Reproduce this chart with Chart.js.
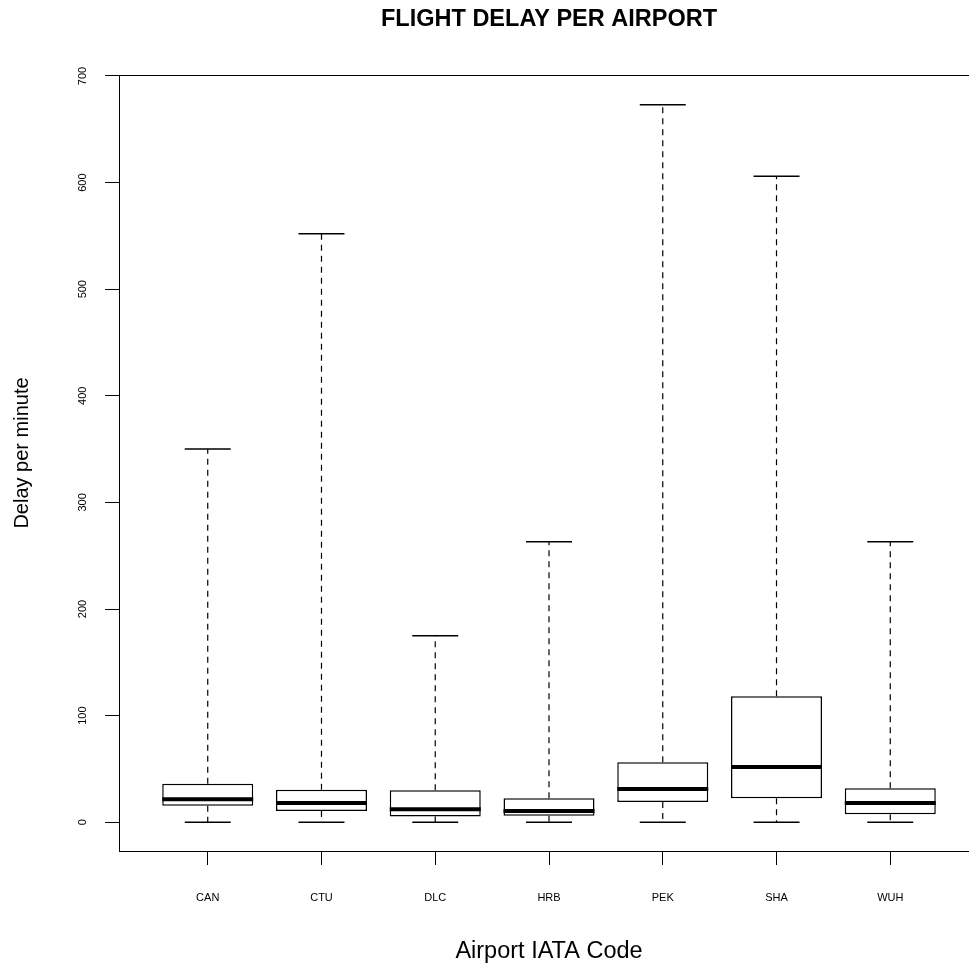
<!DOCTYPE html>
<html>
<head>
<meta charset="utf-8">
<title>Flight delay per airport</title>
<script src="https://cdn.jsdelivr.net/npm/chart.js@4.4.1/dist/chart.umd.min.js"></script>
<style>
  html, body { margin: 0; padding: 0; background: #fff; overflow: hidden; }
  #delayChart { position: absolute; left: 0; top: 0; }
</style>
</head>
<body>
<canvas id="delayChart" width="990" height="965"></canvas>
<script>
// boxplot stats (minutes)
var airports = ['CAN', 'CTU', 'DLC', 'HRB', 'PEK', 'SHA', 'WUH'];
var delayMin = [0, 0, 0, 0, 0, 0, 0];
var delayQ1 = [15.6, 10.6, 5.3, 6.2, 19, 22.5, 7.5];
var delayMedian = [21.6, 18.1, 12.2, 10.6, 31.2, 51.9, 18.1];
var delayQ3 = [36.2, 30.6, 30, 22.5, 56.3, 118.2, 31.9];
var delayMax = [350, 552, 175, 263, 673, 606, 263];
var yTicks = [0, 100, 200, 300, 400, 500, 600, 700];

var FONT = '"Liberation Sans", Arial, Helvetica, sans-serif';

// whisker segments, a null between them breaks the line
var whiskerData = [];
var capData = [];
var boxData = [];
var medianData = [];
airports.forEach(function (name, i) {
  var x = i + 1;
  whiskerData.push({ x: x, y: delayQ3[i] }, { x: x, y: delayMax[i] }, { x: x, y: null });
  whiskerData.push({ x: x, y: delayQ1[i] }, { x: x, y: delayMin[i] }, { x: x, y: null });
  capData.push({ x: x, y: delayMax[i] }, { x: x, y: delayMin[i] });
  boxData.push({ x: x, y: [delayQ1[i], delayQ3[i]] });
  medianData.push({ x: x, y: delayMedian[i] });
});

// frame, titles and tick labels drawn R style
var rDecor = {
  id: 'rDecor',
  afterDraw: function (chart) {
    var ctx = chart.ctx;
    var area = chart.chartArea;
    var xScale = chart.scales.x;
    var yScale = chart.scales.y;
    ctx.save();
    ctx.strokeStyle = '#000';
    ctx.lineWidth = 1;
    ctx.strokeRect(area.left + 0.5, area.top + 0.5, area.right - area.left, area.bottom - area.top);

    ctx.fillStyle = '#000';
    ctx.textAlign = 'center';
    ctx.textBaseline = 'alphabetic';
    ctx.font = 'bold 23.5px ' + FONT;
    ctx.fillText('FLIGHT DELAY PER AIRPORT', (area.left + area.right) / 2, 26);

    ctx.font = '11px ' + FONT;
    airports.forEach(function (name, i) {
      ctx.fillText(name, xScale.getPixelForValue(i + 1), 901);
    });
    yTicks.forEach(function (v) {
      var py = yScale.getPixelForValue(v);
      ctx.save();
      ctx.translate(86, py);
      ctx.rotate(-Math.PI / 2);
      ctx.fillText(String(v), 0, 0);
      ctx.restore();
    });

    ctx.font = '23.5px ' + FONT;
    ctx.fillText('Airport IATA Code', (area.left + area.right) / 2, 958);

    ctx.font = '20px ' + FONT;
    ctx.save();
    ctx.translate(28, (area.top + area.bottom) / 2 - 10);
    ctx.rotate(-Math.PI / 2);
    ctx.fillText('Delay per minute', 0, 0);
    ctx.restore();
    ctx.restore();
  }
};

var ctx = document.getElementById('delayChart').getContext('2d');
var delayChart = new Chart(ctx, {
  type: 'bar',
  data: {
    datasets: [{
      type: 'line',
      label: 'whiskers',
      data: whiskerData,
      borderColor: '#000',
      borderWidth: 1.2,
      borderDash: [6, 5],
      pointRadius: 0,
      spanGaps: false,
      fill: false,
      order: 3
    }, {
      type: 'bar',
      label: 'box',
      data: boxData,
      backgroundColor: '#fff',
      borderColor: '#000',
      borderWidth: 1.5,
      borderSkipped: false,
      barPercentage: 0.8,
      categoryPercentage: 1,
      order: 2
    }, {
      type: 'line',
      label: 'caps',
      data: capData,
      showLine: false,
      pointStyle: 'line',
      pointRadius: 23,
      pointHoverRadius: 23,
      pointBorderWidth: 1.5,
      pointBorderColor: '#000',
      order: 1
    }, {
      type: 'line',
      label: 'median',
      data: medianData,
      showLine: false,
      pointStyle: 'line',
      pointRadius: 45.5,
      pointHoverRadius: 45.5,
      pointBorderWidth: 4,
      pointBorderColor: '#000',
      order: 0
    }]
  },
  options: {
    responsive: false,
    animation: false,
    events: [],
    // wide 'line' points would otherwise add padding around the plot
    layout: { autoPadding: false, padding: { left: 0, top: 75, right: 11, bottom: 0 } },
    plugins: {
      legend: { display: false },
      tooltip: { enabled: false },
      title: { display: false }
    },
    scales: {
      x: {
        type: 'linear',
        min: 0.22,
        max: 7.78,
        offset: false,
        afterBuildTicks: function (scale) {
          scale.ticks = airports.map(function (n, i) { return { value: i + 1 }; });
        },
        afterFit: function (scale) { scale.height = 114; },
        ticks: { display: false },
        grid: { offset: false, drawOnChartArea: false, drawTicks: true, tickLength: 14, color: '#000', lineWidth: 1 },
        border: { display: true, color: '#000', width: 1 },
        title: { display: false }
      },
      y: {
        type: 'linear',
        min: -26.96,
        max: 700.9,
        afterBuildTicks: function (scale) {
          scale.ticks = yTicks.map(function (v) { return { value: v }; });
        },
        afterFit: function (scale) { scale.width = 119; },
        ticks: { display: false },
        grid: { drawOnChartArea: false, drawTicks: true, tickLength: 14, color: '#000', lineWidth: 1 },
        border: { display: true, color: '#000', width: 1 },
        title: { display: false }
      }
    }
  },
  plugins: [rDecor]
});
</script>
</body>
</html>
